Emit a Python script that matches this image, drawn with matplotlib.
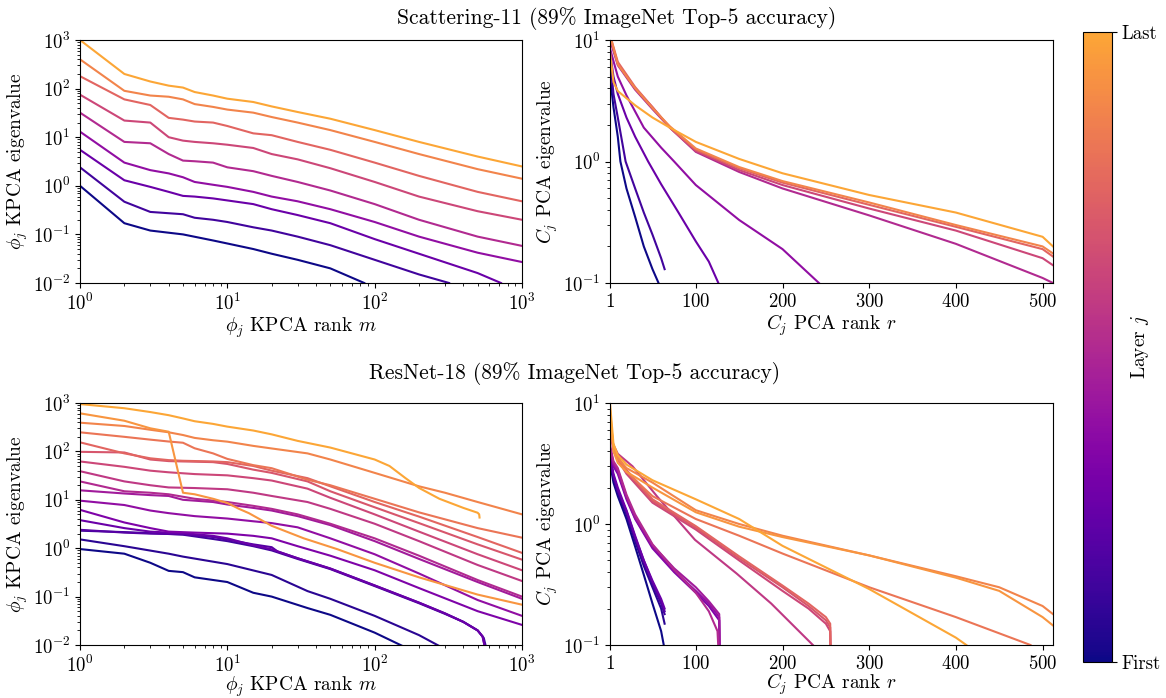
import numpy as np
import matplotlib
matplotlib.use("Agg")
import matplotlib.pyplot as plt
from matplotlib.colors import ListedColormap, Normalize
from matplotlib.cm import ScalarMappable

plt.rcParams['font.family'] = 'serif'
plt.rcParams['font.serif'] = ['cmr10']
plt.rcParams['mathtext.fontset'] = 'cm'
plt.rcParams['axes.formatter.use_mathtext'] = True
plt.rcParams['axes.unicode_minus'] = False

# ---- Scattering-11, KPCA spectra (rank m, eigenvalue), first layer -> last layer
scat_kpca_m = [
    [1, 2, 3, 5, 8, 10, 15, 20, 30, 50, 85],
    [1, 2, 3, 5, 6, 8, 10, 15, 20, 30, 50, 100, 200, 320],
    [1, 2, 3, 4, 5, 6, 8, 10, 15, 20, 30, 50, 100, 200, 500, 720],
    [1, 2, 3, 4, 5, 6, 8, 10, 15, 20, 30, 50, 100, 200, 500, 1000],
    [1, 2, 3, 4, 5, 6, 8, 10, 15, 20, 30, 50, 100, 200, 500, 1000],
    [1, 2, 3, 4, 5, 6, 8, 10, 15, 20, 30, 50, 100, 200, 500, 1000],
    [1, 2, 3, 4, 5, 6, 8, 10, 15, 20, 30, 50, 100, 200, 500, 1000],
    [1, 2, 3, 4, 5, 6, 8, 10, 15, 20, 30, 50, 100, 200, 500, 1000],
    [1, 2, 3, 4, 5, 6, 8, 10, 15, 20, 30, 50, 100, 200, 500, 1000],
]
scat_kpca_val = [
    [1.0, 0.17, 0.12, 0.1, 0.075, 0.065, 0.05, 0.04, 0.03, 0.02, 0.01],
    [2.4, 0.47, 0.29, 0.26, 0.22, 0.2, 0.18, 0.14, 0.12, 0.09, 0.06, 0.03, 0.015, 0.01],
    [5.5, 1.3, 0.95, 0.75, 0.62, 0.6, 0.55, 0.5, 0.42, 0.33, 0.25, 0.17, 0.08, 0.04, 0.016, 0.01],
    [13, 3, 2.1, 1.8, 1.5, 1.2, 1.05, 0.95, 0.75, 0.6, 0.48, 0.33, 0.18, 0.09, 0.042, 0.027],
    [32, 8, 7.5, 4.5, 3.3, 3.2, 3, 2.4, 2.0, 1.6, 1.2, 0.8, 0.42, 0.2, 0.09, 0.058],
    [75, 22, 20, 10, 8.5, 8, 7.5, 7, 6, 4.5, 3.5, 2.3, 1.2, 0.6, 0.3, 0.2],
    [180, 60, 46, 25, 23, 21, 20, 17, 12, 11, 8, 5.5, 3, 1.6, 0.75, 0.48],
    [400, 90, 72, 68, 60, 48, 42, 37, 32, 26, 20, 14, 8, 4.5, 2.2, 1.4],
    [1000, 200, 140, 115, 105, 85, 72, 62, 53, 43, 33, 24, 14, 8, 4, 2.5],
]

# ---- Scattering-11, PCA spectra of C_j (rank r, eigenvalue)
scat_pca_r = [
    [1, 5, 10, 13, 20, 30, 40, 50, 57],
    [1, 5, 10, 19, 30, 40, 50, 60, 64],
    [1, 5, 10, 20, 30, 45, 60, 80, 100, 115, 126],
    [1, 10, 20, 40, 60, 75, 100, 150, 200, 242],
    [1, 10, 30, 50, 70, 100, 150, 200, 300, 400, 500, 512],
    [1, 10, 30, 50, 70, 100, 150, 200, 300, 400, 500, 512],
    [1, 10, 30, 50, 70, 100, 150, 200, 300, 400, 500, 512],
    [1, 10, 30, 50, 70, 100, 150, 200, 300, 400, 500, 512],
    [1, 5, 10, 30, 50, 70, 100, 150, 200, 300, 400, 500, 512],
]
scat_pca_val = [
    [5, 2.8, 1.6, 1.0, 0.6, 0.35, 0.2, 0.13, 0.1],
    [7, 3.6, 2.3, 1.0, 0.6, 0.38, 0.25, 0.16, 0.13],
    [8, 5, 3.6, 2.3, 1.6, 1.0, 0.65, 0.38, 0.22, 0.15, 0.1],
    [8.5, 5, 3.5, 1.9, 1.3, 1.0, 0.64, 0.33, 0.19, 0.1],
    [10, 6.2, 3.9, 2.7, 1.9, 1.2, 0.82, 0.6, 0.36, 0.21, 0.11, 0.1],
    [10.5, 6.4, 4.0, 2.8, 1.9, 1.22, 0.85, 0.64, 0.41, 0.27, 0.16, 0.14],
    [11, 6.6, 4.1, 2.8, 1.9, 1.25, 0.88, 0.67, 0.44, 0.29, 0.19, 0.165],
    [11, 6.3, 4.0, 2.75, 1.95, 1.28, 0.9, 0.69, 0.46, 0.3, 0.2, 0.175],
    [8, 4.5, 3.8, 2.9, 2.3, 1.9, 1.45, 1.05, 0.8, 0.53, 0.38, 0.24, 0.2],
]

# ---- ResNet-18, KPCA spectra
resnet_kpca_m = [
    [1, 2, 3, 4, 5, 6, 10, 15, 20, 35, 50, 100, 155],
    [1, 2, 4, 5, 10, 20, 35, 50, 100, 200, 275],
    [1, 2, 3, 5, 8, 10, 15, 20, 30, 50, 100, 200, 300, 400, 500, 550, 570],
    [1, 2, 3, 5, 8, 10, 15, 20, 22, 30, 50, 100, 200, 300, 400, 500, 540, 560],
    [1, 2, 3, 4, 5, 8, 10, 15, 20, 30, 50, 100, 200, 300, 400, 500, 540, 560],
    [1, 2, 3, 4, 6, 10, 15, 20, 30, 50, 100, 200, 500, 1000],
    [1, 2, 3, 4, 6, 10, 15, 20, 30, 50, 100, 200, 500, 1000],
    [1, 2, 3, 4, 5, 8, 10, 15, 20, 30, 50, 100, 200, 500, 1000],
    [1, 2, 3, 4, 6, 10, 15, 20, 30, 50, 100, 200, 500, 1000],
    [1, 2, 3, 4, 6, 10, 15, 20, 35, 50, 100, 200, 500, 1000],
    [1, 2, 3, 4, 6, 10, 15, 20, 35, 50, 100, 200, 500, 1000],
    [1, 2, 3, 4, 5, 8, 10, 15, 20, 35, 50, 100, 200, 500, 1000],
    [1, 2, 3, 4, 5, 8, 10, 15, 20, 35, 50, 100, 200, 500, 1000],
    [1, 2, 3, 4, 5, 6, 8, 10, 15, 20, 35, 50, 100, 200, 500, 1000],
    [1, 2, 3, 4, 5, 6, 8, 10, 15, 20, 35, 50, 100, 200, 300, 500, 1000],
    [1, 2, 3, 4, 5, 6, 8, 10, 12, 14, 20, 33, 56, 100, 200, 500, 1000],
    [1, 2, 3, 4, 5, 6, 8, 10, 15, 20, 30, 50, 100, 126, 162, 200, 275, 400, 500, 512, 515],
]
resnet_kpca_val = [
    [0.96, 0.77, 0.5, 0.34, 0.32, 0.25, 0.2, 0.12, 0.1, 0.058, 0.042, 0.018, 0.0095],
    [1.52, 1.1, 0.77, 0.67, 0.47, 0.28, 0.13, 0.09, 0.04, 0.016, 0.0095],
    [2.3, 2.15, 2.05, 1.9, 1.55, 1.4, 1.1, 0.9, 0.6, 0.37, 0.165, 0.073, 0.044, 0.03, 0.02, 0.014, 0.009],
    [2.4, 2.1, 2.0, 1.95, 1.7, 1.5, 1.2, 1.05, 0.85, 0.62, 0.38, 0.17, 0.075, 0.045, 0.03, 0.02, 0.015, 0.009],
    [3.8, 2.6, 2.2, 2.1, 2.05, 1.8, 1.6, 1.15, 0.95, 0.62, 0.38, 0.17, 0.075, 0.045, 0.03, 0.02, 0.015, 0.009],
    [6.2, 3.4, 2.6, 2.2, 2.1, 2.0, 1.8, 1.6, 1.1, 0.7, 0.35, 0.15, 0.05, 0.026],
    [9.6, 7.8, 6, 5.3, 4.6, 4.1, 3.6, 3.3, 2.7, 1.6, 0.75, 0.3, 0.085, 0.04],
    [15.7, 13.5, 12.5, 12, 10, 9, 8, 6.8, 6, 4.6, 3, 1.4, 0.6, 0.2, 0.09],
    [24, 15, 14, 13, 10.5, 9, 7.5, 6.5, 5, 3.2, 1.6, 0.7, 0.22, 0.1],
    [39, 24, 20, 18, 17.5, 16.5, 14, 12, 9, 6.5, 3.2, 1.4, 0.45, 0.21],
    [62, 48, 40, 37, 34, 32, 28, 25, 17, 11, 5, 2.2, 0.75, 0.35],
    [98, 95, 68, 63, 62, 60, 55, 42, 36, 24, 15, 7, 3.3, 1.2, 0.58],
    [154, 91, 72, 66, 64, 62, 60, 50, 40, 28, 19, 9, 4.5, 1.7, 0.8],
    [248, 200, 175, 160, 151, 116, 91, 70, 52, 45, 26, 20, 10.5, 5.5, 2.6, 1.65],
    [392, 335, 280, 248, 218, 190, 170, 159, 130, 115, 91, 68, 36, 19, 14, 9, 5],
    [612, 430, 300, 255, 14, 13, 10.5, 8.6, 6.5, 5.3, 2.9, 1.6, 0.95, 0.5, 0.25, 0.11, 0.068],
    [950, 780, 650, 560, 480, 420, 370, 325, 270, 225, 165, 120, 68, 50, 28, 17.6, 10.5, 6.8, 5.4, 5.0, 4.3],
]

# ---- ResNet-18, PCA spectra of C_j
resnet_pca_r = [
    [1, 5, 10, 20, 30, 40, 50, 60, 63],
    [1, 5, 10, 20, 30, 40, 50, 60, 64],
    [1, 5, 10, 20, 30, 40, 50, 60, 64],
    [1, 5, 10, 20, 30, 40, 50, 60, 64],
    [1, 5, 10, 20, 30, 40, 50, 60, 64],
    [1, 5, 10, 20, 30, 50, 75, 100, 115, 127, 128],
    [1, 5, 10, 20, 30, 50, 75, 100, 115, 127, 128],
    [1, 5, 10, 20, 30, 50, 75, 100, 115, 127, 128],
    [1, 5, 10, 20, 30, 50, 75, 100, 115, 125, 128],
    [1, 5, 10, 27, 55, 99, 147, 187, 235],
    [1, 5, 10, 20, 50, 100, 150, 200, 230, 250, 255, 256],
    [1, 5, 10, 20, 50, 100, 150, 200, 230, 250, 255, 256],
    [1, 5, 10, 20, 50, 100, 150, 200, 230, 250, 255, 256],
    [1, 5, 10, 20, 50, 100, 150, 200, 300, 400, 486],
    [1, 5, 10, 20, 50, 100, 150, 200, 300, 400, 450, 500, 512],
    [1, 5, 10, 20, 50, 100, 150, 200, 300, 400, 450, 500, 512],
    [1, 5, 10, 20, 50, 100, 150, 200, 300, 400, 412],
]
resnet_pca_val = [
    [3.2, 2.2, 1.7, 1.1, 0.65, 0.38, 0.22, 0.13, 0.1],
    [3.4, 2.4, 1.8, 1.2, 0.72, 0.45, 0.3, 0.2, 0.15],
    [3.5, 2.5, 1.9, 1.25, 0.76, 0.48, 0.32, 0.22, 0.18],
    [3.6, 2.5, 1.9, 1.28, 0.78, 0.5, 0.33, 0.23, 0.19],
    [3.8, 2.6, 2.0, 1.3, 0.8, 0.5, 0.34, 0.24, 0.2],
    [4, 3, 2.6, 1.6, 1.1, 0.63, 0.4, 0.27, 0.21, 0.16, 0.05],
    [4.2, 3.1, 2.7, 1.65, 1.12, 0.65, 0.41, 0.28, 0.22, 0.17, 0.05],
    [4.3, 3.2, 2.8, 1.7, 1.15, 0.67, 0.43, 0.3, 0.23, 0.18, 0.05],
    [4.5, 3.3, 2.9, 1.75, 1.2, 0.68, 0.42, 0.27, 0.19, 0.13, 0.05],
    [5.5, 4.5, 3.8, 3.0, 1.7, 0.74, 0.39, 0.22, 0.1],
    [6, 4, 3.4, 2.6, 1.5, 0.9, 0.5, 0.28, 0.2, 0.15, 0.13, 0.05],
    [6.5, 4.2, 3.5, 2.7, 1.55, 0.93, 0.52, 0.3, 0.21, 0.16, 0.14, 0.05],
    [7, 4.4, 3.6, 2.8, 1.6, 0.96, 0.54, 0.31, 0.22, 0.17, 0.15, 0.05],
    [7.5, 4.2, 3.5, 2.7, 1.7, 1.1, 0.8, 0.57, 0.3, 0.17, 0.1],
    [8, 4.3, 3.5, 2.9, 2.2, 1.3, 1.0, 0.8, 0.55, 0.37, 0.3, 0.21, 0.18],
    [9, 4, 3.2, 2.7, 2.0, 1.25, 0.95, 0.78, 0.55, 0.36, 0.28, 0.17, 0.145],
    [10, 4.6, 3.7, 3.1, 2.3, 1.6, 1.1, 0.66, 0.29, 0.115, 0.1],
]

TITLES = ["Scattering-11 (89% ImageNet Top-5 accuracy)",
          "ResNet-18 (89% ImageNet Top-5 accuracy)"]

CMAP = ListedColormap(plt.cm.plasma(np.linspace(0, 0.8, 256)))
W, H = 1166, 698


def px_axes(fig, x0, y0, x1, y1):
    return fig.add_axes([x0 / W, 1 - y1 / H, (x1 - x0) / W, (y1 - y0) / H])


def draw_kpca(ax, ms, vals, xpad=1):
    cols = CMAP(np.linspace(0, 1, len(ms)))
    for m, v, c in zip(ms, vals, cols):
        ax.plot(m, v, color=c, lw=1.5)
    ax.set_xscale('log')
    ax.set_yscale('log')
    ax.set_xlim(1, 1000)
    ax.set_ylim(1e-2, 1e3)
    ax.set_xlabel(r'$\phi_j$ KPCA rank $m$', labelpad=xpad)
    ax.set_ylabel(r'$\phi_j$ KPCA eigenvalue', labelpad=2)


def draw_pca(ax, rs, vals, xpad=1):
    cols = CMAP(np.linspace(0, 1, len(rs)))
    for r, v, c in zip(rs, vals, cols):
        ax.plot(r, v, color=c, lw=1.5)
    ax.set_yscale('log')
    ax.set_xlim(1, 512)
    ax.set_ylim(1e-1, 10)
    ax.set_xticks([1, 100, 200, 300, 400, 500])
    ax.set_xlabel(r'$C_j$ PCA rank $r$', labelpad=xpad)
    ax.set_ylabel(r'$C_j$ PCA eigenvalue', labelpad=2)


def main():
    plt.rcParams['font.size'] = 14
    plt.rcParams['xtick.labelsize'] = 13.5
    plt.rcParams['ytick.labelsize'] = 13.5
    fig = plt.figure(figsize=(W / 100, H / 100), dpi=100)

    ax1 = px_axes(fig, 80, 40, 522, 283)
    ax2 = px_axes(fig, 610, 40, 1053, 283)
    ax3 = px_axes(fig, 80, 403, 522, 645)
    ax4 = px_axes(fig, 610, 403, 1053, 645)

    draw_kpca(ax1, scat_kpca_m, scat_kpca_val)
    draw_pca(ax2, scat_pca_r, scat_pca_val)
    draw_kpca(ax3, resnet_kpca_m, resnet_kpca_val, xpad=-1)
    draw_pca(ax4, resnet_pca_r, resnet_pca_val, xpad=-1)

    fig.text(617 / W, 1 - 18 / H, TITLES[0], ha='center', va='center', fontsize=15.5)
    fig.text(575 / W, 1 - 373 / H, TITLES[1], ha='center', va='center', fontsize=15.5)

    cax = px_axes(fig, 1083, 32, 1112, 662)
    sm = ScalarMappable(norm=Normalize(0, 1), cmap=CMAP)
    cb = fig.colorbar(sm, cax=cax)
    cb.set_ticks([0, 1])
    cb.set_ticklabels(['First', 'Last'])
    cb.set_label('Layer $j$', labelpad=-23)

    fig.savefig('out.png', dpi=100)


if __name__ == "__main__":
    main()
